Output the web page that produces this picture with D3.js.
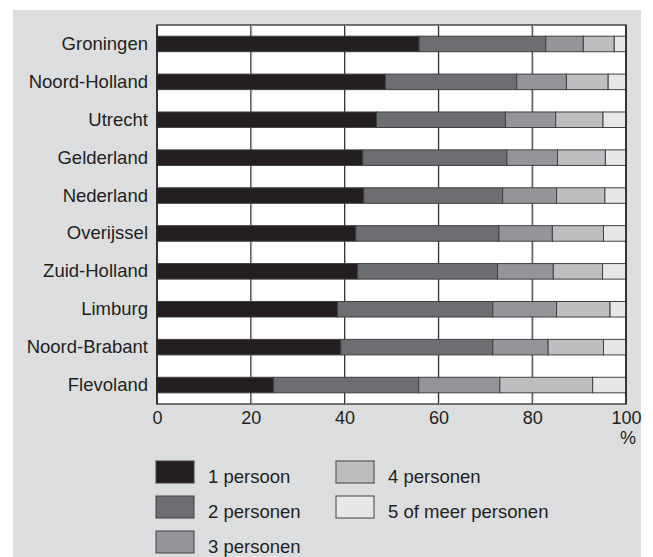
<!DOCTYPE html>
<html><head><meta charset="utf-8">
<script src="https://cdn.jsdelivr.net/npm/d3@7"></script>
<style>body{margin:0;background:#fff}svg{display:block}text{font-family:"Liberation Sans",Arial,sans-serif;fill:#231f20}</style>
</head><body>
<script>
const categories = ["Groningen","Noord-Holland","Utrecht","Gelderland","Nederland","Overijssel","Zuid-Holland","Limburg","Noord-Brabant","Flevoland"];
const seriesNames = ["1 persoon","2 personen","3 personen","4 personen","5 of meer personen"];
const p1 = [55.9,48.7,46.8,43.9,44.1,42.4,42.8,38.5,39.2,24.9];
const p2 = [27.0,28.0,27.5,30.7,29.6,30.5,29.8,33.1,32.4,30.9];
const p3 = [8.0,10.6,10.7,10.8,11.5,11.4,11.9,13.6,11.8,17.3];
const p4 = [6.6,8.9,10.1,10.2,10.3,10.9,10.5,11.4,11.8,19.8];
const p5 = [2.5,3.8,4.9,4.4,4.5,4.8,5.0,3.4,4.8,7.1];
const tickValues = [0,20,40,60,80,100];
const colors = ["#231f20","#6d6e71","#939598","#bcbec0","#e6e7e8"];

const W=653,H=557;
const svg=d3.select("body").append("svg").attr("width",W).attr("height",H);
svg.append("rect").attr("x",13).attr("y",10).attr("width",628).attr("height",H-10).attr("fill","#dcdddf");

const x=d3.scaleLinear().domain([0,100]).range([157,626]);
const y=d3.scaleBand().domain(categories).range([25,404]).paddingInner(0.59).paddingOuter(0.295);

svg.append("rect").attr("x",x(0)).attr("y",25).attr("width",x(100)-x(0)).attr("height",379)
  .attr("fill","#fff").attr("stroke","#231f20").attr("stroke-width",1.2);

const g=svg.append("g");
g.selectAll("line.grid").data(tickValues.slice(1,-1)).join("line").attr("class","grid")
  .attr("x1",d=>x(d)+1).attr("x2",d=>x(d)+1).attr("y1",25).attr("y2",404).attr("stroke","#c8c8ca").attr("stroke-width",1);
g.selectAll("line.grid2").data(tickValues.slice(1,-1)).join("line").attr("class","grid2")
  .attr("x1",d=>x(d)).attr("x2",d=>x(d)).attr("y1",25).attr("y2",404).attr("stroke","#231f20").attr("stroke-width",1);

const stack=d3.stack().keys([0,1,2,3,4]).value((d,k)=>d[k])(categories.map((c,i)=>[p1[i],p2[i],p3[i],p4[i],p5[i]]));
stack.forEach((layer,k)=>{
  svg.append("g").selectAll("rect").data(layer).join("rect")
    .attr("x",d=>x(d[0])).attr("width",d=>Math.min(x(d[1]),x(100))-x(d[0]))
    .attr("y",(d,i)=>y(categories[i])).attr("height",y.bandwidth())
    .attr("fill",colors[k]).attr("stroke","#414042").attr("stroke-width",1);
});
svg.append("line").attr("x1",x(0)).attr("x2",x(0)).attr("y1",25).attr("y2",404).attr("stroke","#231f20").attr("stroke-width",1.5);
svg.append("line").attr("x1",x(100)).attr("x2",x(100)).attr("y1",25).attr("y2",404).attr("stroke","#231f20").attr("stroke-width",1.5);

svg.append("g").selectAll("text").data(categories).join("text")
  .attr("x",148).attr("y",d=>y(d)+y.bandwidth()/2+6).attr("text-anchor","end")
  .attr("font-size","18.5px").text(d=>d);

const xAxis=d3.axisBottom(x).tickValues(tickValues).tickSize(0).tickPadding(0);
const ax=svg.append("g").attr("transform","translate(0,404)").call(xAxis);
ax.select(".domain").remove();
ax.selectAll("text").attr("y",20).attr("dy",0).attr("font-size","18px").style("font-family","Liberation Sans, Arial, sans-serif").attr("fill","#231f20");
svg.append("text").attr("x",636).attr("y",444).attr("text-anchor","end").attr("font-size","18px").text("%");

const legPos=[[156,461],[156,496],[156,531],[336,461],[336,496]];
const leg=svg.append("g").selectAll("g").data(seriesNames).join("g")
  .attr("transform",(d,i)=>`translate(${legPos[i][0]},${legPos[i][1]})`);
leg.append("rect").attr("width",38).attr("height",22).attr("fill",(d,i)=>colors[i]).attr("stroke","#414042").attr("stroke-width",1);
leg.append("text").attr("x",52).attr("y",22).attr("font-size","18.5px").text(d=>d);
</script>
</body></html>
